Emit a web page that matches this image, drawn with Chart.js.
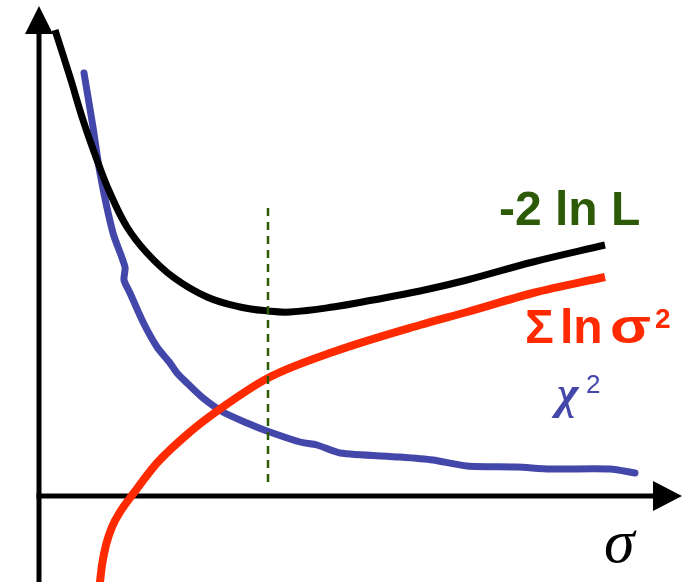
<!DOCTYPE html>
<html>
<head>
<meta charset="utf-8">
<script src="https://cdn.jsdelivr.net/npm/chart.js@4/dist/chart.umd.min.js"></script>
<style>
  html, body { margin: 0; padding: 0; background: #ffffff; }
  #wrap { width: 684px; height: 582px; position: relative; }
</style>
</head>
<body>
<div id="wrap"><canvas id="c" width="684" height="582"></canvas></div>
<script>
// ---- data (σ on x, arbitrary units on y) ----
const blackX = [0.16, 0.31, 0.44, 0.58, 0.71, 0.88, 1.08, 1.34, 1.68, 2.01, 2.29, 2.51, 2.94, 3.34, 3.81, 4.28, 4.94, 5.66];
const blackY = [4.66, 4.19, 3.76, 3.36, 3.03, 2.69, 2.43, 2.19, 1.99, 1.89, 1.85, 1.84, 1.89, 1.96, 2.05, 2.16, 2.34, 2.51];

const redX = [0.60, 0.61, 0.63, 0.67, 0.73, 0.81, 0.94, 1.18, 1.51, 1.81, 2.29, 2.94, 3.81, 4.28, 4.94, 5.66];
const redY = [-0.95, -0.86, -0.69, -0.49, -0.31, -0.16, 0.02, 0.33, 0.64, 0.87, 1.18, 1.44, 1.71, 1.84, 2.03, 2.19];

const blueX = [0.45, 0.54, 0.61, 0.74, 0.86, 0.85, 0.91, 1.04, 1.18, 1.31, 1.38, 1.48, 1.64, 1.84, 2.08, 2.28, 2.61, 2.78, 3.01, 3.61, 3.94, 4.28, 4.78, 5.11, 5.71, 5.96];
const blueY = [4.23, 3.69, 3.23, 2.63, 2.29, 2.16, 2.03, 1.74, 1.49, 1.33, 1.23, 1.13, 0.98, 0.84, 0.73, 0.65, 0.54, 0.51, 0.43, 0.39, 0.36, 0.30, 0.29, 0.27, 0.27, 0.23];

const markerX = [2.29, 2.29];
const markerY = [2.88, 0.08];

const seriesLabels = ["-2 ln L", "Σ ln σ²", "χ²"];
const axisLabel = "σ";

function pts(xs, ys) { return xs.map((x, i) => ({ x: x, y: ys[i] })); }

// ---- plugin: axes with arrows (under the curves) and text labels ----
const axesPlugin = {
  id: 'axesArrows',
  beforeDatasetsDraw(chart) {
    const ctx = chart.ctx;
    const xs = chart.scales.x, ys = chart.scales.y;
    const ox = xs.getPixelForValue(0);
    const oy = ys.getPixelForValue(0);
    const ca = chart.chartArea;
    ctx.save();
    ctx.strokeStyle = '#000';
    ctx.fillStyle = '#000';
    ctx.lineWidth = 5;
    // y axis
    ctx.beginPath();
    ctx.moveTo(ox, ca.bottom);
    ctx.lineTo(ox, 32);
    ctx.stroke();
    ctx.beginPath();
    ctx.moveTo(ox, 6);
    ctx.lineTo(ox - 14, 34);
    ctx.lineTo(ox + 14, 34);
    ctx.closePath();
    ctx.fill();
    // x axis
    ctx.beginPath();
    ctx.moveTo(ox - 2.5, oy);
    ctx.lineTo(655, oy);
    ctx.stroke();
    ctx.beginPath();
    ctx.moveTo(682, oy);
    ctx.lineTo(653, oy - 15);
    ctx.lineTo(653, oy + 15);
    ctx.closePath();
    ctx.fill();
    ctx.restore();
  },
  afterDatasetsDraw(chart) {
    const ctx = chart.ctx;
    ctx.save();
    ctx.textBaseline = 'alphabetic';
    ctx.textAlign = 'left';
    // -2 ln L
    ctx.fillStyle = '#2d5a06';
    ctx.font = 'bold 48px "Liberation Sans", Arial, sans-serif';
    ctx.fillText(seriesLabels[0], 499, 225);
    // Σ ln σ²
    ctx.fillStyle = '#ff2a00';
    ctx.font = 'bold 48px "Liberation Sans", Arial, sans-serif';
    ctx.fillText('Σ', 525, 343);
    ctx.fillText('ln', 560, 343);
    const sw = ctx.measureText('σ').width;
    ctx.save();
    ctx.translate(610, 343);
    ctx.scale(41 / sw, 1);
    ctx.fillText('σ', 0, 0);
    ctx.restore();
    ctx.font = 'bold 28px "Liberation Sans", Arial, sans-serif';
    ctx.fillText('2', 655, 328);
    // χ²
    ctx.fillStyle = '#4347aa';
    ctx.font = 'italic bold 46px "Liberation Serif", serif';
    ctx.fillText('χ', 557, 408);
    ctx.font = '26px "Liberation Sans", Arial, sans-serif';
    ctx.fillText('2', 586, 393);
    // axis label σ
    ctx.fillStyle = '#000';
    ctx.font = 'italic 62px "Liberation Serif", serif';
    ctx.fillText(axisLabel, 604, 562);
    ctx.restore();
  }
};

new Chart(document.getElementById('c'), {
  type: 'line',
  data: {
    datasets: [
      { label: 'marker', data: pts(markerX, markerY), borderColor: '#2d5a06', borderWidth: 2.5,
        borderDash: [8, 6], pointRadius: 0, tension: 0, order: 0 },
      { label: seriesLabels[0], data: pts(blackX, blackY), borderColor: '#000000', borderWidth: 7,
        pointRadius: 0, tension: 0.4, order: 1 },
      { label: seriesLabels[1], data: pts(redX, redY), borderColor: '#ff2a00', borderWidth: 8,
        pointRadius: 0, cubicInterpolationMode: 'monotone', order: 2 },
      { label: seriesLabels[2], data: pts(blueX, blueY), borderColor: '#4347aa', borderWidth: 7,
        borderCapStyle: 'round', borderJoinStyle: 'round',
        pointRadius: 0, tension: 0.25, order: 3 }
    ]
  },
  options: {
    responsive: false,
    animation: false,
    events: [],
    layout: { padding: 0 },
    plugins: { legend: { display: false }, title: { display: false }, tooltip: { enabled: false } },
    scales: {
      x: { type: 'linear', min: -0.39, max: 6.45, display: false },
      y: { type: 'linear', min: -0.86, max: 4.96, display: false }
    }
  },
  plugins: [axesPlugin]
});
</script>
</body>
</html>
